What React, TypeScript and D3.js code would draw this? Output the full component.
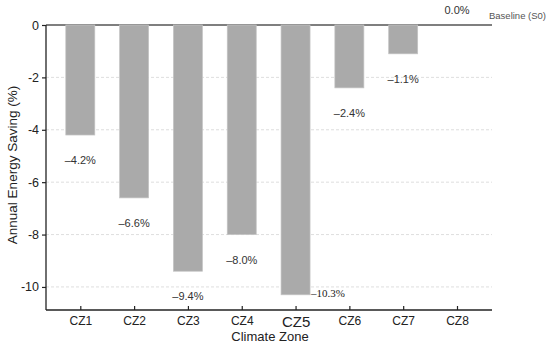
import { useEffect, useRef } from "react";
import { axisBottom, axisLeft, scaleLinear, scalePoint, select } from "d3";

const zones = ["CZ1", "CZ2", "CZ3", "CZ4", "CZ5", "CZ6", "CZ7", "CZ8"];
const savings = [-4.2, -6.6, -9.4, -8.0, -10.3, -2.4, -1.1, 0.0];
const yTicks = [0, -2, -4, -6, -8, -10];

const W = 550;
const H = 346;
const LEFT = 46;
const RIGHT = 492;
const TOP = 25;
const BOTTOM = 310;
const FONT = "Liberation Sans, Arial, sans-serif";

export default function App() {
  const axRef = useRef<SVGGElement | null>(null);

  const x = scalePoint<string>().domain(zones).range([80.3, 457]);
  const y = scaleLinear().domain([-10.88, 0]).range([BOTTOM, TOP]);
  const barW = 29;

  useEffect(() => {
    const g = select(axRef.current);
    g.selectAll("*").remove();

    const yAxis = axisLeft(y)
      .tickValues(yTicks)
      .tickSize(4)
      .tickPadding(3)
      .tickFormat((d) => (d === 0 ? "0" : `-${Math.abs(+d)}`));
    const ya = g.append("g").attr("transform", `translate(${LEFT},0)`).call(yAxis);
    ya.select(".domain").attr("d", `M0,${TOP}V${BOTTOM}`).attr("stroke", "#222").attr("stroke-width", 1.3);
    ya.selectAll(".tick line").attr("stroke", "#222").attr("stroke-width", 1.2);
    ya.selectAll("text").attr("font-family", FONT).attr("font-size", 12.5).attr("fill", "#222");

    const xAxis = axisBottom(x).tickSize(-4).tickPadding(6);
    const xa = g.append("g").attr("transform", `translate(0,${BOTTOM})`).call(xAxis);
    xa.select(".domain").attr("d", `M${LEFT},0H${RIGHT}`).attr("stroke", "#222").attr("stroke-width", 1.3);
    xa.selectAll(".tick line").attr("stroke", "#222").attr("stroke-width", 1.2);
    xa.selectAll("text")
      .attr("font-family", FONT)
      .attr("font-size", (d) => (d === "CZ5" ? 15 : 12))
      .attr("fill", "#222");
  }, []);

  return (
    <svg
      width={W}
      height={H}
      style={{ position: "absolute", left: 0, top: 0, background: "#fff" }}
    >
      {/* dashed grid */}
      {yTicks
        .filter((t) => t !== 0)
        .map((t) => (
          <line
            key={t}
            x1={LEFT}
            x2={RIGHT}
            y1={y(t)}
            y2={y(t)}
            stroke="#d6d6d6"
            strokeWidth={0.8}
            strokeDasharray="3,2"
          />
        ))}

      {/* baseline, behind the bars */}
      <line x1={LEFT} x2={RIGHT} y1={y(0)} y2={y(0)} stroke="#555" strokeWidth={1.4} />
      <text x={489} y={y(0) - 6} fontFamily={FONT} fontSize={9.5} fill="#555">
        Baseline (S0)
      </text>

      {/* bars */}
      {zones.map((z, i) => (
        <rect
          key={z}
          x={(x(z) ?? 0) - barW / 2}
          y={y(0)}
          width={barW}
          height={Math.max(0, y(savings[i]) - y(0))}
          fill="#aaaaaa"
          stroke="#c4c4c4"
          strokeWidth={0.7}
        />
      ))}

      {/* value labels */}
      {zones.map((z, i) => {
        const v = savings[i];
        const cx = x(z) ?? 0;
        if (v === 0) {
          return (
            <text key={z} x={cx} y={y(0) - 11} textAnchor="middle" fontFamily={FONT} fontSize={11} fill="#333">
              0.0%
            </text>
          );
        }
        if (z === "CZ5") {
          return (
            <text
              key={z}
              x={cx + barW / 2 + 1}
              y={y(v) + 2}
              fontFamily="Liberation Serif, Times New Roman, serif"
              fontSize={11}
              fill="#222"
            >
              {`\u2013${Math.abs(v).toFixed(1)}%`}
            </text>
          );
        }
        return (
          <text key={z} x={cx} y={y(v) + 29} textAnchor="middle" fontFamily={FONT} fontSize={11} fill="#333">
            {`\u2013${Math.abs(v).toFixed(1)}%`}
          </text>
        );
      })}

      <g ref={axRef} />

      <text x={270} y={341} textAnchor="middle" fontFamily={FONT} fontSize={13} fill="#222">
        Climate Zone
      </text>
      <text
        transform={`translate(17,165) rotate(-90)`}
        textAnchor="middle"
        fontFamily={FONT}
        fontSize={13.5}
        fill="#222"
      >
        Annual Energy Saving (%)
      </text>
    </svg>
  );
}
